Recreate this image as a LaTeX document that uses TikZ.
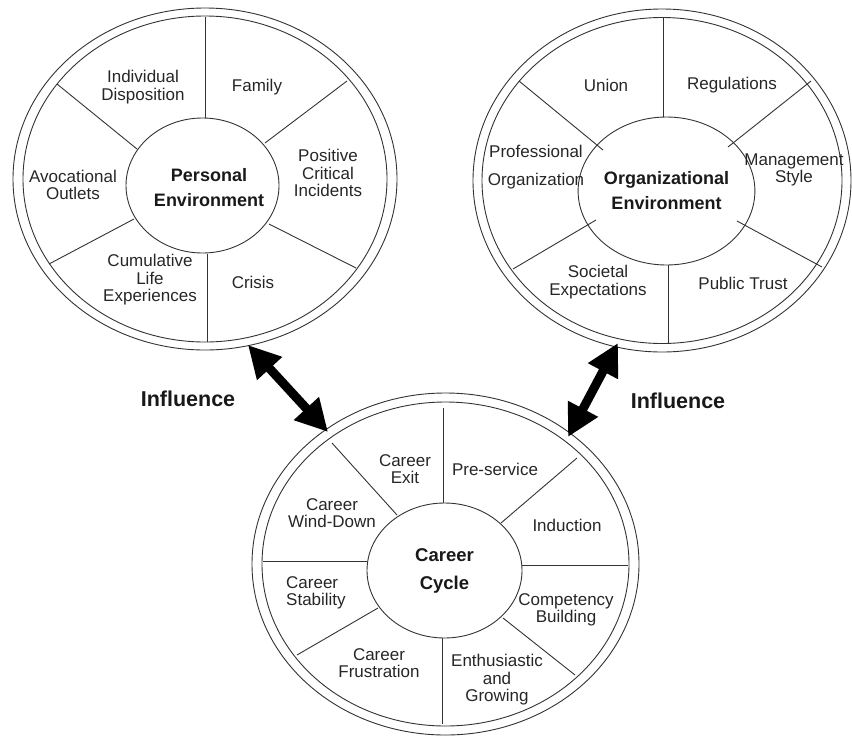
\documentclass[tikz,border=0pt]{standalone}
\usepackage{fontspec}
\setmainfont{Liberation Sans}
\usetikzlibrary{shapes.geometric,arrows.meta}

\tikzset{
  ring/.style={draw=black!80, line width=0.9pt},
  spoke/.style={draw=black!80, line width=0.9pt},
  hub/.style={ellipse, draw=black!80, line width=0.9pt, inner sep=0pt,
              align=center, text=black!90,
              font=\bfseries\fontsize{18}{25}\selectfont},
  lbl/.style={align=center, inner sep=0pt, text=black!85,
              font=\fontsize{17}{17.5}\selectfont},
  infl/.style={inner sep=0pt, text=black!90,
               font=\bfseries\fontsize{21.5}{24}\selectfont},
  bigarrow/.style={line width=9pt, black,
    {Triangle[width=32pt,length=32pt]}-{Triangle[width=32pt,length=32pt]}}
}

\begin{document}
\begin{tikzpicture}[x=1pt, y=-1pt]
\useasboundingbox (0,0) rectangle (852,753);

% ---------- Personal environment wheel ----------
\draw[ring] (205,179) ellipse [x radius=192, y radius=171];
\draw[ring] (205,179) ellipse [x radius=182, y radius=163];
\node[hub, minimum width=153pt, minimum height=135pt] (pe) at (202.5,185.5) {};
\node[lbl, font=\bfseries\fontsize{18}{25}\selectfont, text=black!90]
  (peText) at (209,188) {Personal\\Environment};
\draw[spoke] (205,17) -- (205,118);
\draw[spoke] (347,81) -- (265,143);
\draw[spoke] (269,224) -- (356,268);
\draw[spoke] (207,254) -- (207,342);
\draw[spoke] (134,219) -- (49,264);
\draw[spoke] (137,149) -- (57,84);
\node[lbl] (pe1) at (143,87) {Individual\\Disposition};
\node[lbl] (pe2) at (257,87) {Family};
\node[lbl] (pe3) at (328,173) {Positive\\Critical\\Incidents};
\node[lbl] (pe4) at (253,282) {Crisis};
\node[lbl] (pe5) at (150,280) {Cumulative\\Life\\Experiences};
\node[lbl] (pe6) at (73,185) {Avocational\\Outlets};

% ---------- Organizational environment wheel ----------
\draw[ring] (662,180.5) ellipse [x radius=189, y radius=171.5];
\draw[ring] (662,180.5) ellipse [x radius=180, y radius=163];
\node[hub, minimum width=153pt, minimum height=148pt] (oe) at (666.5,191)
  {Organizational\\Environment};
\draw[spoke] (663,18) -- (663,117);
\draw[spoke] (811,81) -- (728,147);
\draw[spoke] (737,221) -- (822,267);
\draw[spoke] (668,265) -- (668,343);
\draw[spoke] (596,220) -- (513,269);
\draw[spoke] (519,81) -- (603,150);
\node[lbl] (oe1) at (606,85) {Union};
\node[lbl] (oe2) at (732,85) {Regulations};
\node[lbl] (oe3) at (794,170) {Management\\Style};
\node[lbl] (oe4) at (743,283) {Public Trust};
\node[lbl] (oe5) at (598,282) {Societal\\Expectations};
\node[lbl, font=\fontsize{17}{28}\selectfont] (oe6) at (536,167)
  {Professional\\Organization};

% ---------- Career cycle wheel ----------
\draw[ring] (445.5,564) ellipse [x radius=193.5, y radius=171];
\draw[ring] (445.5,564) ellipse [x radius=183.5, y radius=162];
\node[hub, minimum width=155pt, minimum height=135pt,
      font=\bfseries\fontsize{18.5}{28}\selectfont] (cc) at (444.5,570.5)
  {Career\\Cycle};
\draw[spoke] (443,408) -- (443,503);
\draw[spoke] (577,458) -- (501,523);
\draw[spoke] (522,565) -- (628,565);
\draw[spoke] (503,618) -- (575,675);
\draw[spoke] (442,638) -- (442,724);
\draw[spoke] (378,608) -- (297,655);
\draw[spoke] (367,561) -- (263,561);
\draw[spoke] (397,515) -- (332,443);
\node[lbl] (cc1) at (405,469) {Career\\Exit};
\node[lbl] (cc2) at (495,469) {Pre-service};
\node[lbl] (cc3) at (567,525) {Induction};
\node[lbl] (cc4) at (566,610) {Competency\\Building};
\node[lbl] (cc5) at (497,680) {Enthusiastic\\and\\Growing};
\node[lbl] (cc6) at (379,663) {Career\\Frustration};
\node[lbl, align=left, anchor=west] (cc7) at (286,593) {Career\\Stability};
\node[lbl] (cc8) at (332,513) {Career\\Wind-Down};

% ---------- Influence arrows ----------
\coordinate (peTip) at (248,345);
\coordinate (ccTipL) at (328,432);
\coordinate (oeTip) at (618,343);
\coordinate (ccTipR) at (568,437);
\draw[bigarrow] (peTip) -- (ccTipL);
\draw[bigarrow] (oeTip) -- (ccTipR);
\node[infl] (inflL) at (188,399) {Influence};
\node[infl] (inflR) at (678,401) {Influence};

\end{tikzpicture}
\end{document}
